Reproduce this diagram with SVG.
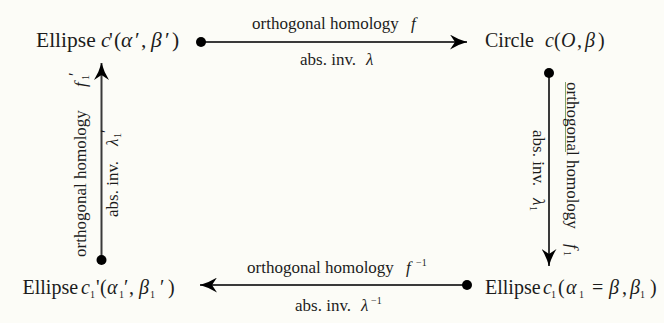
<svg xmlns="http://www.w3.org/2000/svg" width="664" height="323" viewBox="0 0 664 323">
<defs>
<marker id="ah" viewBox="0 0 17 15" refX="17" refY="7.5" markerWidth="17" markerHeight="15" markerUnits="userSpaceOnUse" orient="auto">
<path d="M0,0 Q8,5 17,7.5 Q8,10 0,15 L5,7.5 Z" fill="#000"/>
</marker>
</defs>
<style>
.node{font-size:20px}
.big{font-size:21.5px}
.lab{font-size:17px}
.m{font-style:italic}
.sub{font-size:10px}
.line{stroke:#3a3a3a;stroke-width:2;fill:none}
.dot{fill:#000}
</style>
<rect width="664" height="323" fill="#fcfcf7"/>
<g font-family="'Liberation Serif', 'Times New Roman', 'DejaVu Serif', serif" fill="#1c1c1c">
<g id="n1"><text class="big" x="36" y="47">Ellipse<tspan class="m" x="101">c</tspan><tspan x="109">'</tspan><tspan x="114">(</tspan><tspan class="m" x="121">α</tspan><tspan x="135">′</tspan><tspan x="141">,</tspan><tspan class="m" x="151">β</tspan><tspan x="165">′</tspan><tspan x="172">)</tspan></text></g>
<g id="n2"><text class="node" x="485" y="47">Circle<tspan class="m" x="545">c</tspan><tspan x="554">(</tspan><tspan class="m" x="561">O</tspan><tspan x="577">,</tspan><tspan class="m" x="585">β</tspan><tspan x="598">)</tspan></text></g>
<g id="n3"><text class="node" x="485" y="294">Ellipse<tspan class="m" x="543">c</tspan><tspan class="sub" x="551" dy="4">1</tspan><tspan x="558" dy="-4">(</tspan><tspan class="m" x="566">α</tspan><tspan class="sub" x="579" dy="4">1</tspan><tspan x="592" dy="-4">=</tspan><tspan class="m" x="609">β</tspan><tspan x="622">,</tspan><tspan class="m" x="630">β</tspan><tspan class="sub" x="640" dy="4">1</tspan><tspan x="650" dy="-4">)</tspan></text></g>
<g id="n4"><text class="node" x="22.5" y="294">Ellipse<tspan class="m" x="81">c</tspan><tspan class="sub" x="90" dy="4">1</tspan><tspan x="96" dy="-4">'</tspan><tspan x="100">(</tspan><tspan class="m" x="107">α</tspan><tspan class="sub" x="119" dy="4">1</tspan><tspan x="124" dy="-4">′</tspan><tspan x="129">,</tspan><tspan class="m" x="139">β</tspan><tspan class="sub" x="150" dy="4">1</tspan><tspan x="160" dy="-4">′</tspan><tspan x="168">)</tspan></text></g>
<g id="connectors">
<g id="e1">
<line class="line" x1="201" y1="42" x2="467" y2="42" marker-end="url(#ah)"/>
<circle class="dot" cx="201" cy="42" r="5"/>
<text class="lab" x="252" y="29">orthogonal homology<tspan class="m" x="411">f</tspan></text>
<text class="lab" x="300" y="65">abs. inv.<tspan class="m" x="366">λ</tspan></text>
</g>
<g id="e2">
<line class="line" x1="549" y1="73" x2="549" y2="266" marker-end="url(#ah)"/>
<circle class="dot" cx="549" cy="73" r="5"/>
<line x1="565.5" y1="82" x2="565.5" y2="152" stroke="#7fa36e" stroke-width="1"/>
<text class="lab" transform="translate(567,82) rotate(90)" x="0" y="0">orthogonal homology<tspan class="m" x="162">f</tspan><tspan class="sub" x="169" dy="3">1</tspan></text>
<text class="lab" transform="translate(533,130) rotate(90)" x="0" y="0">abs. inv.<tspan class="m" x="68">λ</tspan><tspan class="sub" x="76" dy="3">1</tspan></text>
</g>
<g id="e3">
<line class="line" x1="467" y1="285" x2="200" y2="285" marker-end="url(#ah)"/>
<circle class="dot" cx="467" cy="285" r="5"/>
<text class="lab" x="247" y="273">orthogonal homology<tspan class="m" x="406">f</tspan><tspan class="sub" x="416" dy="-7">−1</tspan></text>
<text class="lab" x="295" y="311">abs. inv.<tspan class="m" x="361">λ</tspan><tspan class="sub" x="371" dy="-7">−1</tspan></text>
</g>
<g id="e4">
<line class="line" x1="101.5" y1="260" x2="101.5" y2="63" marker-end="url(#ah)"/>
<circle class="dot" cx="101.5" cy="260" r="5"/>
<text class="lab" transform="translate(86,257) rotate(-90)" x="0" y="0">orthogonal homology<tspan class="m" x="170">f</tspan><tspan class="sub" x="177" dy="3">1</tspan><tspan x="181" dy="-9">′</tspan></text>
<text class="lab" transform="translate(118,217) rotate(-90)" x="0" y="0">abs. inv.<tspan class="m" x="71">λ</tspan><tspan class="sub" x="79" dy="3">1</tspan><tspan x="84" dy="-9">′</tspan></text>
</g>
</g>
</g>
</svg>
